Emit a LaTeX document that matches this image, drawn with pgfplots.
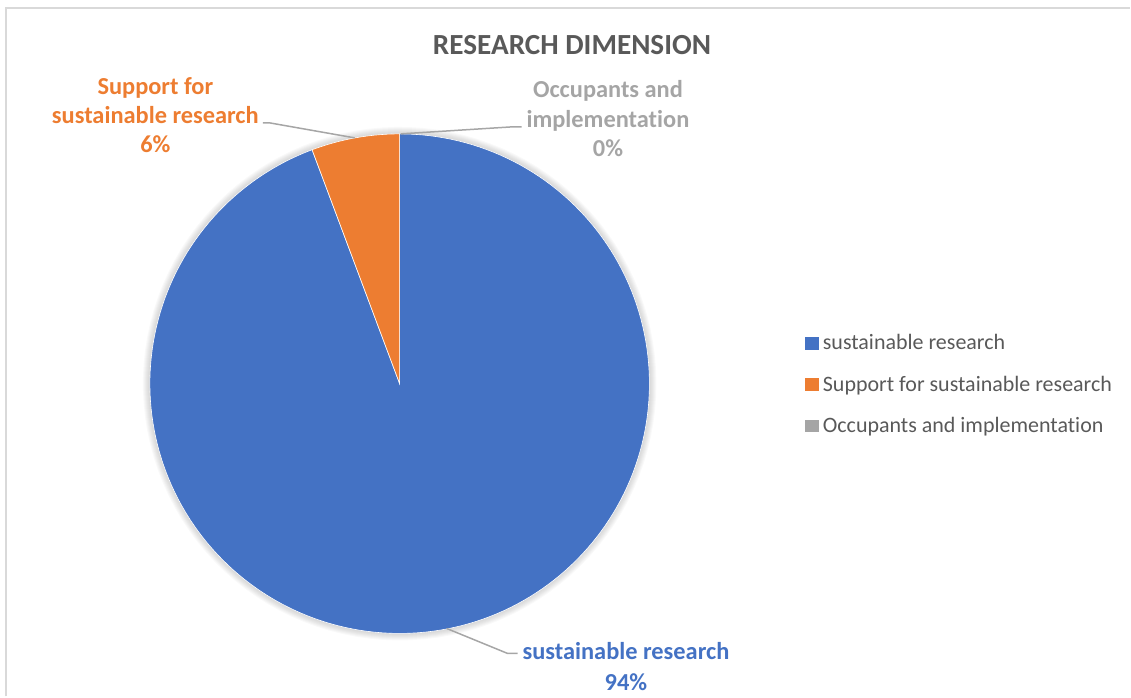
\documentclass[border=0pt]{standalone}
\usepackage{pgfplots}
\pgfplotsset{compat=1.18}
\usepackage{fontspec}
\setmainfont[Ligatures={NoCommon}]{Carlito}
\definecolor{cblue}{HTML}{4472C4}
\definecolor{corange}{HTML}{ED7D31}
\definecolor{cgray}{HTML}{A5A5A5}
\definecolor{ctitle}{HTML}{595959}
\definecolor{cleader}{HTML}{A6A6A6}
\definecolor{cborder}{HTML}{D9D9D9}
% data (percent)
\def\vA{94.3}% sustainable research
\def\vB{5.7}% Support for sustainable research
\def\vC{0}% Occupants and implementation
\pgfmathsetmacro\aA{90-3.6*\vA}
\pgfmathsetmacro\aB{\aA-3.6*\vB}
\begin{document}
\begin{tikzpicture}
\begin{axis}[
  width=565.5pt, height=348.5pt, scale only axis,
  xmin=0, xmax=1131, ymin=0, ymax=697, enlargelimits=false,
  hide axis, clip=false,
  legend style={at={(axis cs:806,369.5)}, anchor=north west, draw=none, fill=none,
    inner sep=0pt, outer sep=0pt, row sep=5.7pt, cells={anchor=base west},
    font=\fontsize{11}{13.4}\selectfont, text=ctitle,
    /tikz/every even column/.append style={column sep=3.5pt}},
  legend image code/.code={\fill[#1] (0pt,0pt) rectangle (6.8pt,6.3pt);},
]
\path (axis cs:0,0) rectangle (axis cs:1131,697);
% chart border
\addplot[draw=cborder, line width=1pt, forget plot] coordinates {(6.5,0) (6.5,688.5) (1131,688.5)};
% soft shadow
\foreach \r in {251,252,253,254,255,256,257}{
  \addplot[draw=none, fill=black, fill opacity=0.022, domain=0:360, samples=120, variable=\t, forget plot]
    ({400+\r*cos(\t)},{313+\r*sin(\t)}) -- cycle;
}
% wedges
\addplot[fill=cblue, draw=white, line width=0.3pt, domain=\aA:90, samples=200, variable=\t, forget plot]
  ({400+250*cos(\t)},{313+250*sin(\t)}) -- (axis cs:400,313) -- cycle;
\addplot[fill=corange, draw=white, line width=0.3pt, domain=\aB:\aA, samples=30, variable=\t, forget plot]
  ({400+250*cos(\t)},{313+250*sin(\t)}) -- (axis cs:400,313) -- cycle;
% leader lines
\addplot[draw=cleader, line width=0.75pt, forget plot] coordinates {(263,574) (270,574) (355,559)};
\addplot[draw=cleader, line width=0.75pt, forget plot] coordinates {(401,563) (512,570) (522,570)};
\addplot[draw=cleader, line width=0.75pt, forget plot] coordinates {(447,68) (508,43) (518,43)};
% legend
\addlegendimage{draw=none, fill=cblue}
\addlegendentry{\strut sustainable research}
\addlegendimage{draw=none, fill=corange}
\addlegendentry{\strut Support for sustainable research}
\addlegendimage{draw=none, fill=cgray}
\addlegendentry{\strut Occupants and implementation}
% title
\node[anchor=base, inner sep=0pt, text=ctitle, font=\fontsize{14.6}{17}\selectfont\bfseries] at (axis cs:572.5,642) {RESEARCH DIMENSION};
% data labels
\begin{scope}[every node/.style={anchor=base, inner sep=0pt, font=\fontsize{12.2}{14.6}\selectfont\bfseries}]
\node[text=corange] at (axis cs:155.5,602) {Support for};
\node[text=corange] at (axis cs:155.5,573) {sustainable research};
\node[text=corange] at (axis cs:155.5,544.3) {6\%};
\node[text=cgray] at (axis cs:608.5,599) {Occupants and};
\node[text=cgray] at (axis cs:608.5,569.5) {implementation};
\node[text=cgray] at (axis cs:608.5,540) {0\%};
\node[text=cblue] at (axis cs:626.5,37) {sustainable research};
\node[text=cblue] at (axis cs:626.5,6.3) {94\%};
\end{scope}
\end{axis}
\end{tikzpicture}
\end{document}
